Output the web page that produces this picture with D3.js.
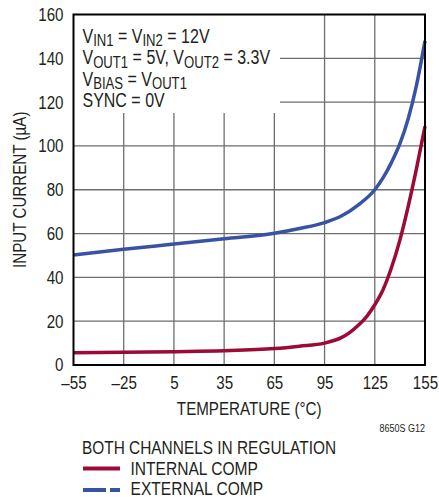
<!DOCTYPE html>
<html>
<head>
<meta charset="utf-8">
<script src="https://cdn.jsdelivr.net/npm/d3@7"></script>
<style>
  html, body { margin: 0; padding: 0; background: #fff; }
  svg { display: block; }
  text { font-family: "Liberation Sans", Arial, sans-serif; fill: #231f20; }
</style>
</head>
<body>
<svg id="chart" width="439" height="497"></svg>
<script>
// ---- data ----
const temperatures = [-55, -25, 5, 35, 65, 80, 95, 105, 110, 115, 120, 125, 130, 135, 140, 145, 150, 155];
const internalComp = [5.6, 5.8, 6.1, 6.5, 7.5, 8.6, 10, 12.5, 14.8, 18, 22, 27.5, 34.5, 44.5, 57, 72.5, 90, 109];
const externalTemps = [-55, -25, 5, 35, 65, 80, 95, 105, 115, 125, 130, 135, 140, 145, 150, 155];
const externalComp = [50.2, 52.8, 55.2, 57.6, 60.1, 62.3, 65, 68, 73, 80, 85.5, 92.5, 101, 112.5, 128, 148];
const xTicks = [-55, -25, 5, 35, 65, 95, 125, 155];
const yTicks = [0, 20, 40, 60, 80, 100, 120, 140, 160];

(function () {
const svg = d3.select("#chart");
const pl = 73.5, pr = 425, pt = 14.5, pb = 365;
const s = 0.82;
const x = d3.scaleLinear().domain([-55, 155]).range([pl, pr]);
const y = d3.scaleLinear().domain([0, 160]).range([pb, pt]);

// narrow the glyphs horizontally around each text's own x
function condense(sel) {
  sel.each(function () {
    const x0 = +(this.getAttribute("x") || 0);
    this.setAttribute("transform", `translate(${x0},0) scale(${s},1) translate(${-x0},0)`);
  });
  return sel;
}

// grid
const grid = svg.append("g").attr("stroke", "#6d6e71").attr("stroke-width", 1.3);
grid.selectAll("line.v").data(xTicks.slice(1, -1)).enter().append("line")
  .attr("x1", d => x(d)).attr("x2", d => x(d)).attr("y1", pt).attr("y2", pb);
grid.selectAll("line.h").data(yTicks.slice(1, -1)).enter().append("line")
  .attr("x1", pl).attr("x2", pr).attr("y1", d => y(d)).attr("y2", d => y(d));

// white box behind the annotation
svg.append("rect").attr("x", pl).attr("y", pt).attr("width", 280 - pl).attr("height", 113 - pt).attr("fill", "#fff");

// curves
const line = d3.line().x(d => x(d[0])).y(d => y(d[1])).curve(d3.curveMonotoneX);
svg.append("path").datum(externalTemps.map((t, i) => [t, externalComp[i]]))
  .attr("d", line).attr("fill", "none").attr("stroke", "#3953a4").attr("stroke-width", 3.5);
svg.append("path").datum(temperatures.map((t, i) => [t, internalComp[i]]))
  .attr("d", line).attr("fill", "none").attr("stroke", "#9b0b35").attr("stroke-width", 3.5);

// frame
svg.append("rect").attr("x", pl).attr("y", pt).attr("width", pr - pl).attr("height", pb - pt)
  .attr("fill", "none").attr("stroke", "#000").attr("stroke-width", 2);

// axes
const xAxis = svg.append("g").attr("transform", `translate(0,${pb})`)
  .call(d3.axisBottom(x).tickValues(xTicks).tickSize(0).tickPadding(11).tickFormat(d => d < 0 ? "\u2013" + Math.abs(d) : d));
const yAxis = svg.append("g").attr("transform", `translate(${pl},0)`)
  .call(d3.axisLeft(y).tickValues(yTicks).tickSize(0).tickPadding(10));
[xAxis, yAxis].forEach(a => {
  a.select(".domain").remove();
  a.attr("font-family", null).attr("font-size", null);
  a.selectAll("text").attr("font-size", 18.5).attr("fill", "#231f20").call(condense);
});

// axis titles
svg.append("text").attr("x", (pl + pr) / 2).attr("y", 415).attr("text-anchor", "middle")
  .attr("font-size", 18.5).text("TEMPERATURE (°C)").call(condense);
svg.append("text").attr("transform", `translate(26,${(pt + pb) / 2}) rotate(-90) scale(${s},1)`).attr("text-anchor", "middle")
  .attr("font-size", 18.5).text("INPUT CURRENT (µA)");

svg.append("text").attr("x", 425).attr("y", 432).attr("text-anchor", "end").attr("font-size", 11).text("8650S G12").call(condense);

// annotation
const ann = [
  [["V", ""], ["IN1", "sub"], [" = V", ""], ["IN2", "sub"], [" = 12V", ""]],
  [["V", ""], ["OUT1", "sub"], [" = 5V, V", ""], ["OUT2", "sub"], [" = 3.3V", ""]],
  [["V", ""], ["BIAS", "sub"], [" = V", ""], ["OUT1", "sub"]],
  [["SYNC = 0V", ""]]
];
ann.forEach((parts, i) => {
  const t = svg.append("text").attr("x", 82.5).attr("y", 43 + i * 21.4).attr("font-size", 19.5);
  parts.forEach((p, j) => {
    const sp = t.append("tspan").text(p[0]);
    const prev = j > 0 ? parts[j - 1][1] : "";
    if (p[1] === "sub") sp.attr("font-size", 16).attr("dy", 3.5);
    else if (prev === "sub") sp.attr("dy", -3.5);
  });
  condense(t);
});

// legend
svg.append("text").attr("x", 82).attr("y", 454).attr("font-size", 18.8).text("BOTH CHANNELS IN REGULATION").call(condense);
svg.append("line").attr("x1", 83).attr("x2", 120).attr("y1", 468.5).attr("y2", 468.5)
  .attr("stroke", "#9b0b35").attr("stroke-width", 4);
svg.append("text").attr("x", 130.5).attr("y", 475).attr("font-size", 19).text("INTERNAL COMP").call(condense);
svg.append("line").attr("x1", 83).attr("x2", 120).attr("y1", 490).attr("y2", 490)
  .attr("stroke", "#3953a4").attr("stroke-width", 4).attr("stroke-dasharray", "23,4");
svg.append("text").attr("x", 130.5).attr("y", 495.5).attr("font-size", 19).text("EXTERNAL COMP").call(condense);
})();
</script>
</body>
</html>
